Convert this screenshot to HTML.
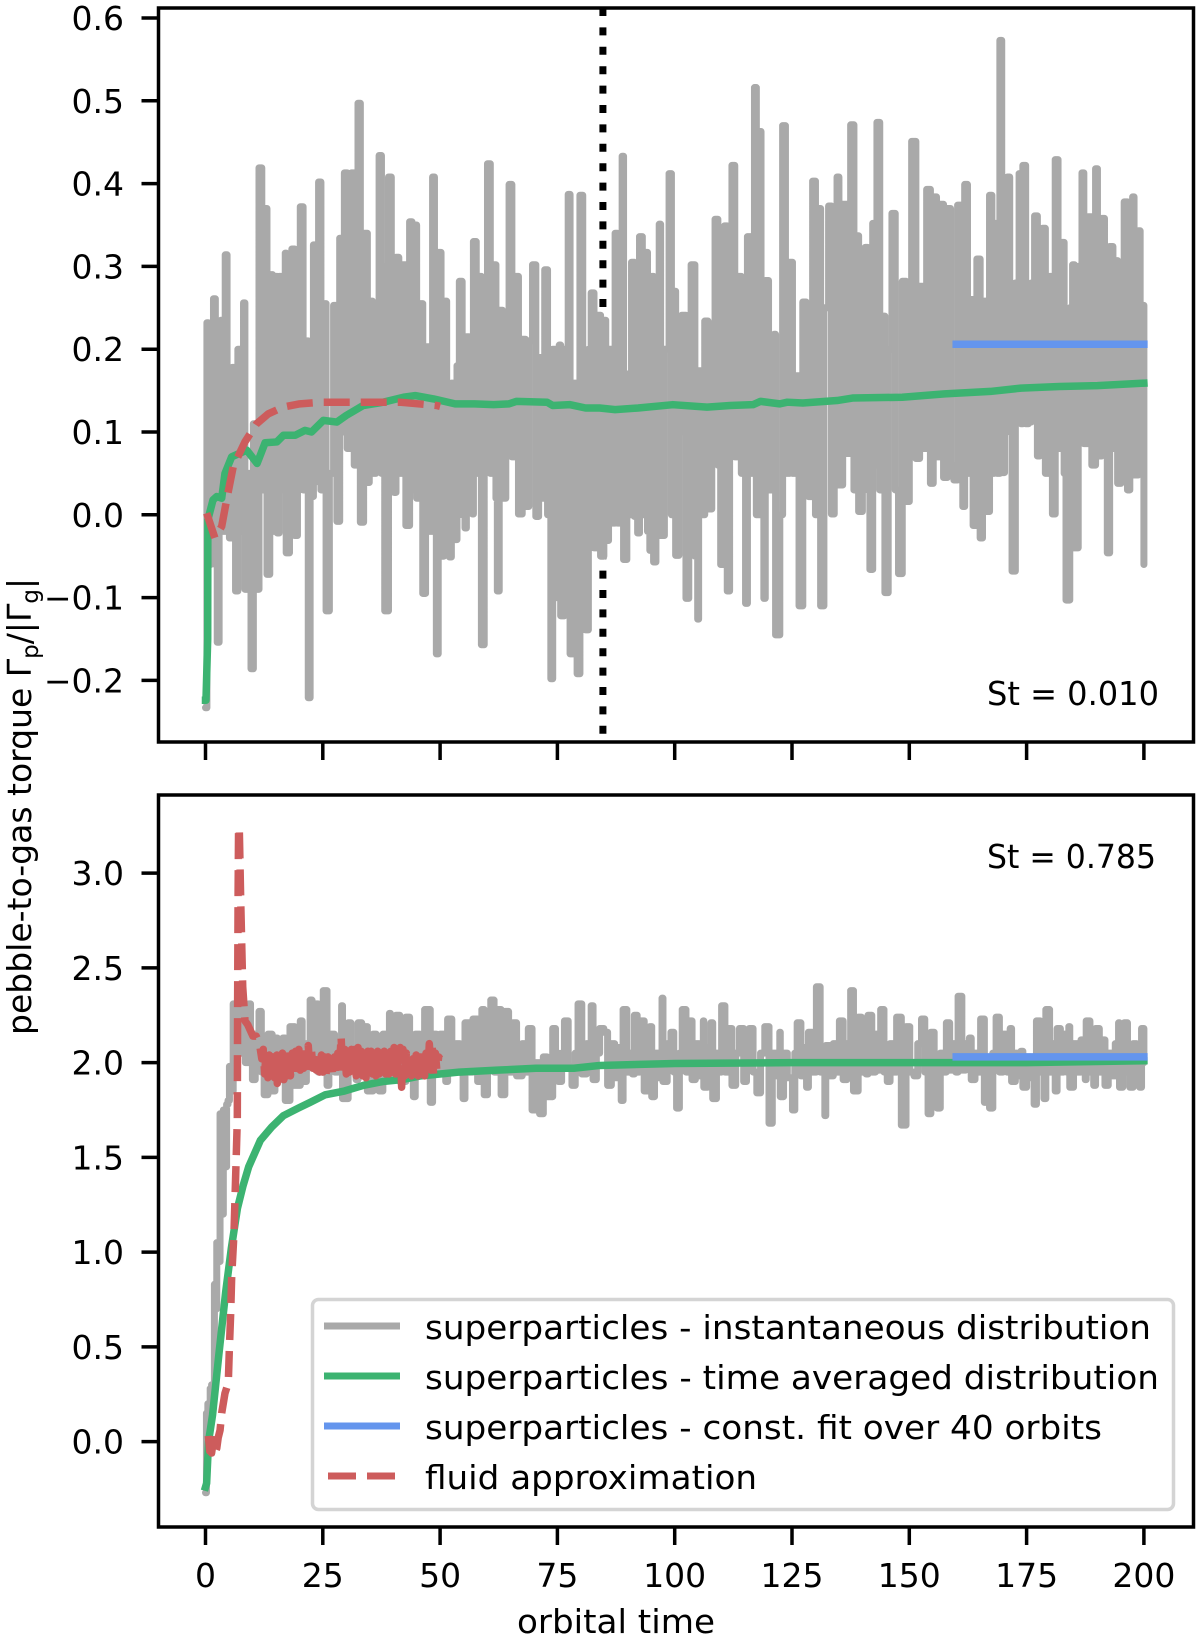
<!DOCTYPE html>
<html lang="en">
<head>
<meta charset="utf-8">
<title>Pebble-to-gas torque versus orbital time</title>
<style>
  html, body { margin: 0; padding: 0; background: #fff; }
  svg { display: block; }
  text { font-family: "DejaVu Sans", "Liberation Sans", sans-serif; fill: #000; }
</style>
</head>
<body>
<svg id="chart" xmlns="http://www.w3.org/2000/svg" width="1200" height="1639" viewBox="0 0 1200 1639">
  <rect x="0" y="0" width="1200" height="1639" fill="#fff"/>
  <g id="topPanel"></g>
  <g id="bottomPanel"></g>

  <text x="987" y="705" font-size="33" textLength="172" lengthAdjust="spacingAndGlyphs">St = 0.010</text>
  <text x="987" y="868" font-size="33" textLength="169" lengthAdjust="spacingAndGlyphs">St = 0.785</text>

  <text x="517" y="1633" font-size="33" textLength="198" lengthAdjust="spacingAndGlyphs">orbital time</text>
  <text transform="translate(31,1035) rotate(-90)" font-size="33">pebble-to-gas torque Γ<tspan font-size="23" dy="7">p</tspan><tspan dy="-7">/|Γ</tspan><tspan font-size="23" dy="7">g</tspan><tspan dy="-7">|</tspan></text>

  <g>
    <rect x="312.5" y="1299.5" width="861" height="210" rx="6" ry="6" fill="#fff" fill-opacity="0.8" stroke="#d4d4d4" stroke-width="3.5"/>
    <line x1="324" x2="400" y1="1326" y2="1326" stroke="#a9a9a9" stroke-width="7"/>
    <line x1="324" x2="400" y1="1376" y2="1376" stroke="#3cb371" stroke-width="7"/>
    <line x1="324" x2="400" y1="1426" y2="1426" stroke="#6495ed" stroke-width="7"/>
    <line x1="328" x2="396" y1="1476" y2="1476" stroke="#cd5c5c" stroke-width="7" stroke-dasharray="28 11"/>
    <text x="425" y="1339" font-size="33" textLength="726" lengthAdjust="spacingAndGlyphs">superparticles - instantaneous distribution</text>
    <text x="425" y="1389" font-size="33" textLength="734" lengthAdjust="spacingAndGlyphs">superparticles - time averaged distribution</text>
    <text x="425" y="1439" font-size="33" textLength="677" lengthAdjust="spacingAndGlyphs">superparticles - const. fit over 40 orbits</text>
    <text x="425" y="1489" font-size="33" textLength="332" lengthAdjust="spacingAndGlyphs">fluid approximation</text>
  </g>
</svg>

<script>
const xTickValues = [0, 25, 50, 75, 100, 125, 150, 175, 200];
const xTickLabels = ["0", "25", "50", "75", "100", "125", "150", "175", "200"];
const topYTickValues = [-0.2, -0.1, 0, 0.1, 0.2, 0.3, 0.4, 0.5, 0.6];
const topYTickLabels = ["\u22120.2", "\u22120.1", "0.0", "0.1", "0.2", "0.3", "0.4", "0.5", "0.6"];
const bottomYTickValues = [0, 0.5, 1, 1.5, 2, 2.5, 3];
const bottomYTickLabels = ["0.0", "0.5", "1.0", "1.5", "2.0", "2.5", "3.0"];

const dividerTime = [84.7];

const topInstTimes = [0,0.3,0.6,1.1,1.7,2.1,2.5,2.9,3.3,3.7,4.2,4.6,5.1,5.7,6.4,6.9,7.4,8.1,8.4,9,9.7,10.2,10.7,11.4,12,12.8,13.1,13.7,14.3,14.8,15.3,15.7,16.3,17,17.2,17.9,18.4,19,19.6,20.2,20.8,21.5,21.9,22.3,22.7,23,23.5,24.1,24.6,25.5,25.7,26.4,27.3,28,28.6,29.1,29.6,30.2,31.1,31.7,32.5,33,33.7,34.5,34.9,35.6,36.3,37,37.5,37.8,38.2,39,39.6,40.2,40.6,41.2,41.8,42.7,43.5,44,44.4,45,45.5,46.3,46.9,47.6,48.4,48.8,49.2,49.6,50.2,50.8,51.4,52,52.4,53,53.6,54.1,54.7,55.3,55.6,56.2,56.9,57.1,57.7,58.2,58.8,59.4,60.1,60.7,61.4,61.9,62.2,62.6,63.3,64,64.7,65.3,66,66.7,67.5,68.2,68.9,69.7,70.4,71,71.6,72.3,72.9,73.6,74,74.7,75.4,75.7,76.5,77,77.3,77.7,78.5,79.2,79.8,80.4,81,81.6,82.2,82.8,83.5,84.2,84.9,85.3,85.9,86.5,87.3,87.8,88.4,88.8,89.1,89.8,90.3,90.8,91.4,92.1,92.5,93.1,93.7,94.2,94.7,95.1,95.5,96,96.7,97,97.8,98.8,99.3,99.7,100.2,100.9,101.5,102.4,103,103.5,104.3,104.9,105.1,105.8,106.4,107.1,107.9,108.6,109.2,109.8,110.6,111.2,111.7,112.2,112.8,113.4,114.2,115.1,115.5,116.2,117,117.4,117.9,118.4,119,119.3,120,120.6,121.2,121.5,122.4,123,123.6,124.5,125.1,125.7,126.5,127.3,128,128.5,129.4,130,130.6,131.1,131.8,132.8,133.4,134,134.6,135,135.8,136.7,137.5,138.2,138.9,139.2,140,140.6,141.1,141.6,142.2,142.6,143.1,143.7,144.4,144.8,145.5,146.3,147,147.7,148.5,149.3,150,150.5,151.4,152.2,153,153.7,154.5,155.1,155.8,156.4,157.3,158.1,158.8,159.5,160.3,161.4,161.8,162.4,163,163.6,164.4,165.1,165.6,166.5,167.1,167.6,168.1,168.7,169.3,169.7,170.3,170.9,171.4,171.9,172.6,173.4,173.8,174.2,174.8,175.4,176,176.7,177.3,177.8,178.4,179,179.9,180.5,181.1,181.7,182.4,183,183.4,184.2,184.8,185.2,186,186.8,187.2,188.1,188.9,189.7,190.1,191,191.6,192.2,192.7,193.4,194,194.4,195.1,195.8,196.5,197,197.6,197.9,198.8,199.2,199.7,200];
const topInstValues = [-0.233,0.232,-0.06,0.15,0.261,-0.06,-0.154,0.15,0.235,-0.02,0.314,0.02,-0.028,0.178,-0.092,0.2,-0.02,0.256,-0.09,0.05,-0.186,0.11,-0.09,0.419,0.03,0.37,-0.072,0.29,-0.02,0.288,-0.022,0.288,0.03,0.316,-0.046,0.2,0.321,-0.025,0.21,0.372,0.03,0.21,-0.221,0.18,0.022,0.326,0.04,0.402,0.03,0.255,-0.116,0.05,0.253,-0.008,0.334,0.1,0.413,0.08,0.413,0.06,0.497,-0.009,0.34,0.039,0.258,0.05,0.25,0.434,0.05,0.3,-0.116,0.408,0.05,0.027,0.311,0.05,0.302,-0.013,0.354,0.03,0.35,0.02,0.255,-0.095,0.203,-0.02,0.408,-0.02,-0.168,0.317,-0.05,0.258,-0.04,-0.051,0.159,-0.03,0.18,0.282,0,-0.016,0.215,0.04,0.001,0.33,0.05,0.288,-0.157,0.1,0.424,0.05,0.302,0.02,-0.092,0.247,0.02,0.15,0.399,0.07,0.288,0.001,0.212,0.01,0.21,0.302,-0.002,0.19,0.02,0.296,0,-0.198,0.2,-0.1,0.205,-0.122,0.2,-0.1,0.387,-0.168,0.159,-0.192,0.386,-0.1,-0.139,0.2,0.268,-0.04,0.241,-0.05,0.235,-0.031,0.2,-0.01,0.34,-0.01,0.29,0.433,-0.054,0.17,0,0.305,-0.002,-0.022,0.336,0,0.317,-0.02,-0.043,0.288,-0.057,0.2,0.351,-0.025,0.2,0.412,0,0.27,-0.049,0.1,0.241,-0.101,0.1,0.302,-0.05,-0.126,0.174,0,0.234,0.007,0.23,0.357,0.06,-0.06,0.349,-0.092,0.25,0.422,0.07,0.288,0.05,-0.107,0.336,0.05,0.516,0,0.463,0,-0.101,0.283,0.03,0.2,0.218,-0.145,0,0.47,0.05,0.305,0.05,0.168,-0.11,0.257,0.05,0.022,0.403,0,0.37,-0.11,0.25,0.373,0.001,0.28,0.408,0.036,0.375,0.074,0.471,0.03,0.337,0.004,0.28,0.323,0.03,-0.066,0.352,0.06,0.474,0.03,0.24,-0.094,0.2,0.364,0.03,-0.071,0.282,0.016,0.25,0.451,0.068,0.276,0.08,0.393,0.038,0.384,0.07,0.375,0.045,0.37,0.06,0.042,0.374,0.01,0.399,0.05,0.26,-0.013,0.309,-0.028,0.258,0.004,0.386,0.05,0.352,0.05,0.573,0.051,0.28,0.408,0.1,-0.068,0.28,0.412,0.11,0.422,0.11,0.112,0.28,0.361,0.071,0.29,0.346,0.05,0.288,0.001,0.429,0.08,0.329,0.05,-0.103,0.25,0.302,-0.04,0.3,0.413,0.086,0.36,0.06,0.418,0.071,0.358,0.08,-0.046,0.324,0.08,0.307,0.038,0.25,0.378,0.03,0.3,0.384,0.048,0.343,0.05,0.253,-0.06];

const topAvgTimes = [0,0.1,0.47,0.5,1.6,2.4,3.45,4.15,5.58,8.8,11,12.7,15.2,16.6,19.1,21.2,22.6,25.1,28,30,33.6,37.9,42.2,44.7,48.6,53.2,57.3,61.4,64.7,66.3,72.8,74,77.7,81,84,87.3,92.2,99.6,106.9,111.8,116.7,118.3,122.4,124,127.3,134.6,137.9,148.5,157.5,167.3,173.8,182,190.1,200];
const topAvgValues = [-0.224,-0.224,-0.15,-0.006,0.018,0.022,0.02,0.05,0.07,0.078,0.062,0.087,0.088,0.096,0.096,0.102,0.1,0.114,0.112,0.12,0.132,0.136,0.142,0.144,0.14,0.134,0.134,0.133,0.134,0.137,0.136,0.132,0.133,0.129,0.129,0.127,0.129,0.133,0.13,0.132,0.133,0.137,0.134,0.136,0.135,0.138,0.141,0.142,0.146,0.149,0.153,0.155,0.156,0.159];

const topFluidTimes = [0.25,2,3.45,4.5,5.9,8.4,10.9,13.4,16.5,20.1,25,33.6,41.4,49.3,50];
const topFluidValues = [0.002,-0.028,-0.014,0.018,0.058,0.088,0.11,0.122,0.13,0.134,0.136,0.136,0.136,0.132,0.131];

const topFitTimes = [160, 200];
const topFitValues = [0.206, 0.206];

const bottomInstTimes = [0,0.2,0.5,1,1.3,1.9,2.1,2.4,2.6,3.1,3.3,3.8,4.1,4.5,4.8,5.1,5.4,5.9,6.4,7,7.4,8,8.5,9.2,9.6,10,10.6,11.4,11.9,12.5,13.3,14.2,14.8,15.3,16.5,17,18,19,20.2,20.6,21.5,22.3,22.7,23.5,24,25.1,25.9,26.3,27.5,28.3,29,29.2,30.4,31,32.1,32.5,33.3,34.1,34.5,35.7,36.4,37,37.8,38.5,39.2,39.4,40.6,41.4,42.7,43.5,44.3,44.7,45.7,46.7,47.9,48.4,49.2,50,51.2,51.6,52.5,53.4,54.2,54.9,55.3,56.2,57,58,58.9,59.4,60.1,60.8,61.5,62.2,63,63.8,64.6,65.5,66.3,67.5,68.1,68.8,69.6,70.4,71.2,72,72.8,74,74.6,75.2,75.9,76.5,77.3,78.1,78.8,79.4,80.2,81.2,82.2,82.6,83.3,84,84.9,85.7,86.5,87.2,87.9,88.6,89,89.8,90.6,91,91.4,92,92.6,93.5,94.1,94.7,95.1,95.7,96.5,97.3,97.5,98.4,99.2,99.8,100.4,101,101.6,102.4,103.2,103.7,104.4,105.2,106.1,106.2,107,107.7,108.1,108.9,109.5,110,110.7,111.4,112.2,113,113.8,114.7,115.3,115.9,116.7,117.5,118.3,119.2,120.1,120.8,121.6,122.4,122.5,123.2,124,125.1,125.6,126.1,126.9,127.5,128.1,128.5,129.3,130.2,131,131.6,132,132.2,133,133.8,134.5,135.1,135.9,136.7,137.5,138.1,139.1,139.8,140.4,140.8,141.2,142,142.8,143.4,143.9,144.6,145.3,145.9,146.6,147.3,148.3,149.3,150.1,151,151.8,152.6,153.3,154,154.6,155.3,155.9,156.6,157.2,157.9,158.6,159.3,159.9,160.4,161.2,162,162.8,163.2,164,164.6,165.2,166,166.6,167.1,167.8,168.5,169.2,170,170.8,171.5,171.8,172.6,173.3,173.8,174.2,175,175.8,176.6,177.1,177.9,178.7,179.1,179.9,180.6,181.1,181.5,182.2,182.9,183.5,184,184.2,185,185.8,186.6,187.5,187.7,188.5,189.3,189.7,190.5,191.1,191.7,192.4,193.2,193.9,194.6,194.8,195.5,195.8,196.5,197,197.7,198.4,199.1,199.5,200,200];
const bottomInstValues = [-0.27,0.15,0.2,0.28,0.3,0.83,0.7,1.05,0.95,1.73,1.2,1.75,1.45,1.78,1.8,1.98,1.85,2.31,2.04,2.37,2.05,2.3,2,2.31,2,1.91,2.15,2.27,1.95,1.83,2.15,1.85,2.13,1.91,2.13,1.8,2.19,1.88,2.22,1.9,2.1,2.33,1.97,2.31,1.95,2.38,1.88,2.15,1.95,2.1,2.3,1.81,2.21,1.98,1.91,2.21,1.95,2.19,1.85,2.15,1.95,1.85,2.15,1.95,2.26,1.91,2.25,1.9,2.24,1.95,1.82,2.15,1.95,2.28,1.79,2.15,1.95,2.15,1.9,2.23,1.95,2.1,1.97,1.81,2.21,1.95,2.23,1.9,2.28,1.83,2.02,2.33,1.95,2.28,1.83,2.27,1.95,2.21,1.93,2.1,1.95,2.18,1.75,2,1.73,2.03,1.82,2.18,2.05,1.9,2.05,2.22,1.98,1.88,2.05,2.31,1.94,2.1,2.3,1.91,2.05,2.18,2.16,1.88,2.1,1.92,2.08,1.8,2.28,1.95,2.05,1.94,2.25,1.95,2.22,1.85,2.08,2.19,1.82,2.05,1.92,2.34,1.9,2.1,2.16,1.95,1.76,2.05,2.28,1.95,2.22,1.91,2.1,1.93,2.22,1.87,2.08,2.21,1.81,2.05,1.95,2.3,1.95,2.18,1.88,2.05,2.18,1.9,2.05,2.18,1.95,1.84,2.05,2.19,1.68,2.05,1.93,2.16,1.82,2.05,1.92,1.75,2.05,2.21,1.93,2.08,1.87,2.16,1.95,2.4,1.95,2.05,1.72,2.09,1.93,2.1,1.95,2.22,1.91,2.1,2.38,1.85,2.24,1.95,2.08,1.94,2.25,1.95,2.15,1.96,2.28,1.95,1.9,2.1,1.95,2.24,1.67,2.19,1.95,1.93,2.1,2.23,1.95,1.73,2.16,1.95,1.76,2.05,1.95,2.21,1.96,2.1,1.95,2.35,1.96,2.1,2.13,1.91,2.05,1.95,2.23,1.79,2,1.76,2.05,2.24,1.95,2.15,1.95,2.18,1.9,2.05,1.93,2.06,1.87,2.03,1.92,1.78,2.22,1.95,1.81,2.28,1.95,2.1,1.85,2.18,1.95,2.15,1.95,2.19,1.87,2.1,1.95,2.12,1.91,2.22,1.95,1.88,2.18,1.95,2.12,1.88,2.05,1.93,2.1,2.21,1.87,2.05,2.21,1.95,1.87,2.1,1.93,1.87,2.18,2,2.15];

const bottomAvgTimes = [0,0.24,0.65,1.5,2.85,4.3,5.5,6.8,8,9.2,11.7,14.1,16.6,19.8,22.3,25.5,29.6,33.7,37.8,41.8,45.9,50,54.1,62.2,70.4,78.5,84,100,125,150,175,200];
const bottomAvgValues = [-0.24,-0.22,0,0.14,0.46,0.79,1.02,1.23,1.35,1.45,1.59,1.66,1.72,1.76,1.79,1.83,1.85,1.88,1.9,1.91,1.93,1.94,1.95,1.96,1.97,1.97,1.985,1.995,2,2,2,2.01];

const bottomFluidTimes = [0.6,0.9,1.1,1.3,1.7,2,2.4,2.7,3.1,3.45,4.15,4.86,5.07,5.37,5.58,6.07,6.78,6.85,6.95,7.05,7.2,7.35,7.5,7.93,8.42,9,10.1,10.8,11.5,12,12.3,12.6,12.9,13.3,13.6,14,14.3,14.7,15,15.2,15.3,15.7,16,16.4,16.7,17.1,17.4,17.8,18.1,18.5,18.8,19.2,19.5,19.9,20.2,20.6,20.9,21.3,21.6,21.9,22.2,22.6,22.9,23.3,23.6,24,24.3,24.7,25,25.4,25.7,26.1,26.4,26.8,27.1,27.5,27.8,28.2,28.5,28.9,29,29.3,29.7,30,30.4,30.7,31.1,31.4,31.8,32.1,32.5,32.8,33.2,33.5,33.9,34.2,34.6,34.9,35.3,35.6,36,36.3,36.7,37,37.4,37.7,38.1,38.4,38.8,39.1,39.5,39.8,40.2,40.5,40.8,41.1,41.5,41.8,42.1,42.5,42.8,43.2,43.5,43.9,44.2,44.6,44.9,45.3,45.6,46,46.3,46.7,47,47.4,47.7,48.1,48.3,48.6,49,49.3,49.7,50];
const bottomFluidValues = [0.03,-0.05,0.02,-0.06,0.01,-0.06,-0.035,0.02,0.06,0.15,0.255,0.31,0.48,0.68,0.87,1.1,1.7,2.33,2.9,3.24,3.24,3.05,2.86,2.4,2.22,2.2,2.14,2.14,2.1,2.02,2.07,1.94,2.05,1.92,2.04,1.9,2.03,1.92,2.03,2.04,1.89,2.03,1.92,2.05,1.91,2.04,1.93,2.06,1.93,2.05,1.95,2.06,1.94,2.07,1.96,2.08,1.97,2.08,1.98,2.09,1.98,2.06,1.97,2.05,1.96,2.04,1.95,2.04,1.95,2.03,1.94,2.03,1.94,2.02,1.93,2.03,1.94,2.05,1.94,2.14,2.08,1.95,2.07,1.94,2.08,1.95,2.07,1.94,2.07,1.93,2.08,1.94,2.06,1.93,2.07,1.92,2.06,1.93,2.06,1.94,2.05,1.93,2.06,1.94,2.05,1.93,2.06,1.94,2.07,1.94,2.06,1.95,2.08,1.94,2.1,1.95,2.08,1.87,2.07,1.93,2.05,1.94,2.03,1.93,2.02,1.95,2.04,1.93,2.05,1.94,2.06,1.93,2.05,1.94,2.1,1.96,2.09,1.94,2.05,1.96,2.03,2.02];

const bottomFitTimes = [160, 200];
const bottomFitValues = [2.03, 2.03];

const SVG_NS = "http://www.w3.org/2000/svg";

function xScale(t) { return 205.5 + t * 4.692; }
function topY(v) { return 514.8 - v * 828; }
function bottomY(v) { return 1441.6 - v * 189.5; }

function pointsFrom(times, values, yScale) {
  const parts = [];
  const n = Math.min(times.length, values.length);
  for (let i = 0; i < n; i++) {
    parts.push(xScale(times[i]).toFixed(2) + "," + yScale(values[i]).toFixed(2));
  }
  return parts.join(" ");
}

function stepPathFrom(times, values, yScale) {
  const n = Math.min(times.length, values.length);
  let d = "M" + xScale(times[0]).toFixed(2) + " " + yScale(values[0]).toFixed(2);
  for (let i = 1; i < n; i++) {
    d += "H" + xScale(times[i]).toFixed(2) + "V" + yScale(values[i]).toFixed(2);
  }
  return d;
}

function makeSeries(parent, times, values, yScale, color, dash, cap) {
  const line = document.createElementNS(SVG_NS, "polyline");
  line.setAttribute("points", pointsFrom(times, values, yScale));
  line.setAttribute("fill", "none");
  line.setAttribute("stroke", color);
  line.setAttribute("stroke-width", "7.5");
  line.setAttribute("stroke-linejoin", "round");
  line.setAttribute("stroke-linecap", cap);
  if (dash) line.setAttribute("stroke-dasharray", dash);
  parent.appendChild(line);
  return line;
}

function makeStepSeries(parent, times, values, yScale, color) {
  const line = document.createElementNS(SVG_NS, "path");
  line.setAttribute("d", stepPathFrom(times, values, yScale));
  line.setAttribute("fill", "none");
  line.setAttribute("stroke", color);
  line.setAttribute("stroke-width", "7");
  line.setAttribute("stroke-linejoin", "round");
  line.setAttribute("stroke-linecap", "round");
  parent.appendChild(line);
  return line;
}

function makeFrameAndTicks(parent, top, bottom, yScale, yValues, yLabels, showXLabels) {
  const left = 158.5, right = 1193.5;
  const frame = document.createElementNS(SVG_NS, "rect");
  
  
  frame.setAttribute("x", left);
  frame.setAttribute("y", top);
  frame.setAttribute("width", right - left);
  frame.setAttribute("height", bottom - top);
  frame.setAttribute("fill", "none");
  frame.setAttribute("stroke", "#000");
  frame.setAttribute("stroke-width", "3.5");
  parent.appendChild(frame);

  xTickValues.forEach(function (value, i) {
    const tick = document.createElementNS(SVG_NS, "line");
    
    
    tick.setAttribute("x1", xScale(value));
    tick.setAttribute("x2", xScale(value));
    tick.setAttribute("y1", bottom);
    tick.setAttribute("y2", bottom + 18);
    tick.setAttribute("stroke", "#000");
    tick.setAttribute("stroke-width", "3.5");
    parent.appendChild(tick);
    if (showXLabels) {
      const label = document.createElementNS(SVG_NS, "text");
      
      
      label.setAttribute("x", xScale(value));
      label.setAttribute("y", "1587");
      label.setAttribute("text-anchor", "middle");
      label.setAttribute("font-size", "33");
      label.textContent = xTickLabels[i];
      parent.appendChild(label);
    }
  });

  yValues.forEach(function (value, i) {
    const tick = document.createElementNS(SVG_NS, "line");
    
    
    tick.setAttribute("x1", left);
    tick.setAttribute("x2", left - 17);
    tick.setAttribute("y1", yScale(value));
    tick.setAttribute("y2", yScale(value));
    tick.setAttribute("stroke", "#000");
    tick.setAttribute("stroke-width", "3.5");
    parent.appendChild(tick);
    const label = document.createElementNS(SVG_NS, "text");
    
    
    label.setAttribute("x", "124");
    label.setAttribute("y", yScale(value) + 12);
    label.setAttribute("text-anchor", "end");
    label.setAttribute("font-size", "33");
    label.textContent = yLabels[i];
    parent.appendChild(label);
  });
}

const topPanel = document.getElementById("topPanel");
const bottomPanel = document.getElementById("bottomPanel");

const divider = document.createElementNS(SVG_NS, "line");


divider.setAttribute("x1", xScale(dividerTime[0]));
divider.setAttribute("x2", xScale(dividerTime[0]));
divider.setAttribute("y1", "8");
divider.setAttribute("y2", "742");
divider.setAttribute("stroke", "#000");
divider.setAttribute("stroke-width", "7");
divider.setAttribute("stroke-dasharray", "8 11.4");
topPanel.appendChild(divider);

const topInst = makeStepSeries(topPanel, topInstTimes, topInstValues, topY, "#a9a9a9");


const topAvg = makeSeries(topPanel, topAvgTimes, topAvgValues, topY, "#3cb371", null, "square");


const topFit = makeSeries(topPanel, topFitTimes, topFitValues, topY, "#6495ed", null, "square");


const topFluid = makeSeries(topPanel, topFluidTimes, topFluidValues, topY, "#cd5c5c", "26 11", "butt");


makeFrameAndTicks(topPanel, 8, 742, topY, topYTickValues, topYTickLabels, false);

const bottomInst = makeStepSeries(bottomPanel, bottomInstTimes, bottomInstValues, bottomY, "#a9a9a9");


const bottomAvg = makeSeries(bottomPanel, bottomAvgTimes, bottomAvgValues, bottomY, "#3cb371", null, "square");


const bottomFit = makeSeries(bottomPanel, bottomFitTimes, bottomFitValues, bottomY, "#6495ed", null, "square");


const bottomFluid = makeSeries(bottomPanel, bottomFluidTimes, bottomFluidValues, bottomY, "#cd5c5c", "26 11", "butt");


makeFrameAndTicks(bottomPanel, 795, 1527, bottomY, bottomYTickValues, bottomYTickLabels, true);
</script>
</body>
</html>
